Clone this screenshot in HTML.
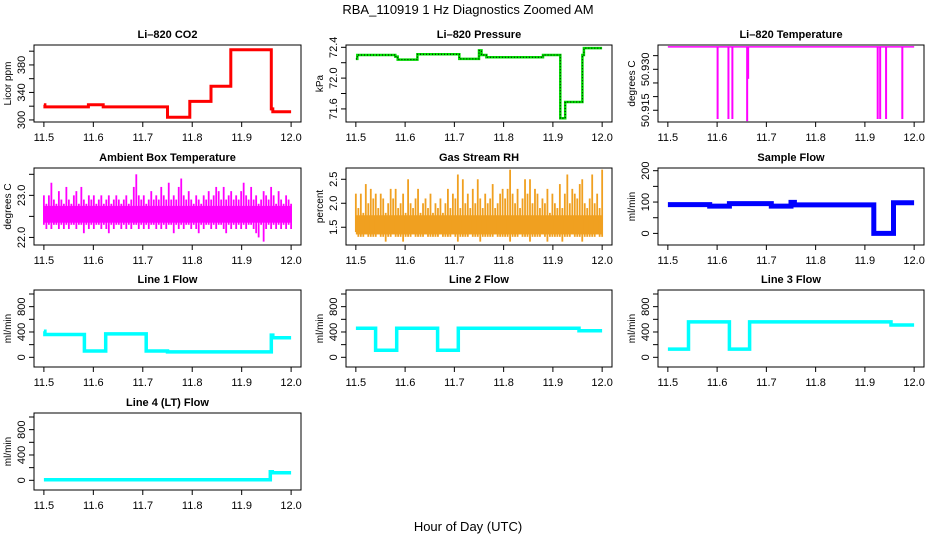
<!DOCTYPE html>
<html><head><meta charset="utf-8"><style>
html,body{margin:0;padding:0;background:#fff;}
svg{display:block;font-family:"Liberation Sans",Arial,sans-serif;}
</style></head><body>
<svg id="chart" width="936" height="540" viewBox="0 0 936 540" xmlns="http://www.w3.org/2000/svg">
<text x="468" y="14" text-anchor="middle" font-size="13">RBA_110919  1 Hz Diagnostics Zoomed AM</text>
<text x="468" y="531" text-anchor="middle" font-size="13">Hour of Day (UTC)</text>
</svg>
<script>
// ---- data ----
const xTicks = [11.5, 11.6, 11.7, 11.8, 11.9, 12.0];
const xTickLabels = ["11.5", "11.6", "11.7", "11.8", "11.9", "12.0"];

const co2Breaks = [11.5, 11.502, 11.59, 11.62, 11.75, 11.795, 11.838, 11.878, 11.96, 11.963, 12.0];
const co2Values = [322, 319, 322, 319, 304, 327, 349, 402, 316, 312, 312];

const presBreaks = [11.5, 11.503, 11.58, 11.585, 11.625, 11.71, 11.75, 11.755, 11.765, 11.88, 11.915, 11.925, 11.96, 11.963, 12.0];
const presValues = [72.25, 72.30, 72.28, 72.24, 72.31, 72.25, 72.36, 72.30, 72.27, 72.30, 71.48, 71.69, 72.30, 72.39, 72.39];

const tempBase = 50.9382;
const tempSpikeTimes = [11.601, 11.623, 11.631, 11.661, 11.663, 11.926, 11.931, 11.943, 11.976];
const tempSpikeValues = [50.9118, 50.9118, 50.9118, 50.9110, 50.9265, 50.9118, 50.9118, 50.9118, 50.9118];

const ambUpper = [23.0,22.8,23.0,23.3,22.9,22.8,23.1,22.9,22.8,23.2,22.9,22.8,23.0,23.1,22.8,23.2,22.9,22.8,23.0,22.9,23.0,22.8,22.9,23.0,22.8,22.9,23.0,22.8,22.9,23.0,22.9,22.8,22.9,23.0,22.8,22.9,23.2,23.5,23.0,22.9,23.0,22.8,22.9,23.1,22.9,23.0,22.9,23.2,23.0,22.9,23.3,22.9,23.0,22.9,23.2,23.4,23.0,22.9,23.1,22.9,22.8,23.0,22.9,22.8,23.0,22.9,23.1,22.9,23.0,23.2,23.1,22.9,23.2,22.9,23.0,23.1,22.9,23.0,22.9,23.1,23.3,23.0,22.9,23.2,22.9,23.0,22.8,22.9,23.1,23.0,22.9,23.2,23.0,22.8,23.1,22.9,22.8,23.0,22.9,22.8];
const ambLower = [22.3,22.2,22.3,22.2,22.3,22.3,22.2,22.3,22.2,22.3,22.2,22.3,22.3,22.2,22.3,22.3,22.1,22.3,22.2,22.3,22.2,22.3,22.3,22.2,22.3,22.2,22.1,22.3,22.2,22.3,22.3,22.2,22.3,22.2,22.3,22.2,22.3,22.3,22.2,22.3,22.2,22.3,22.2,22.3,22.3,22.2,22.3,22.2,22.3,22.2,22.3,22.3,22.1,22.3,22.2,22.3,22.2,22.3,22.3,22.2,22.3,22.2,22.1,22.3,22.2,22.3,22.3,22.2,22.3,22.2,22.3,22.3,22.2,22.1,22.3,22.2,22.3,22.2,22.3,22.2,22.3,22.2,22.3,22.3,22.2,22.1,22.0,22.3,21.9,22.2,22.3,22.2,22.3,22.2,22.3,22.2,22.3,22.2,22.3,22.2];

const rhUpper = [2.2,1.9,2.2,1.8,2.4,2.0,2.3,2.1,2.2,1.9,2.2,2.1,1.8,2.0,2.3,2.1,2.3,1.9,2.0,2.2,1.8,2.5,2.0,1.9,2.1,2.3,1.8,2.0,2.1,1.9,2.2,1.8,2.0,1.9,2.1,1.8,2.0,2.3,1.9,2.2,2.1,2.6,1.9,2.5,2.0,2.2,1.9,2.3,2.0,2.5,2.1,1.9,2.2,2.0,2.1,2.4,1.9,2.0,2.2,2.3,2.1,2.3,2.7,2.2,2.0,2.3,1.9,2.1,2.5,2.2,2.5,2.0,2.3,2.2,1.9,2.1,2.0,2.3,1.8,2.2,2.0,1.9,2.4,1.9,2.2,2.6,2.0,2.3,2.2,2.1,2.4,2.5,2.0,1.9,2.1,2.6,2.0,2.2,1.9,2.7];
const rhLower = [1.4,1.3,1.3,1.3,1.4,1.3,1.3,1.3,1.3,1.4,1.3,1.3,1.2,1.3,1.3,1.4,1.3,1.3,1.3,1.2,1.3,1.3,1.3,1.4,1.3,1.3,1.3,1.3,1.4,1.3,1.3,1.3,1.3,1.3,1.4,1.3,1.3,1.3,1.3,1.4,1.3,1.2,1.3,1.3,1.3,1.3,1.4,1.3,1.3,1.3,1.2,1.3,1.3,1.3,1.3,1.3,1.4,1.3,1.3,1.3,1.3,1.3,1.2,1.3,1.3,1.3,1.4,1.3,1.3,1.3,1.2,1.3,1.3,1.3,1.3,1.4,1.3,1.2,1.3,1.3,1.3,1.3,1.3,1.2,1.3,1.3,1.3,1.4,1.3,1.3,1.3,1.2,1.3,1.3,1.3,1.3,1.3,1.4,1.3,1.3];

const sfBreaks = [11.5, 11.585, 11.625, 11.71, 11.75, 11.757, 11.918, 11.958, 12.0];
const sfValues = [92, 87, 95, 87, 99, 91, 0, 98, 98];

const l1Breaks = [11.5, 11.502, 11.582, 11.625, 11.707, 11.75, 11.96, 11.963, 12.0];
const l1Values = [410, 360, 100, 370, 100, 85, 350, 310, 310];

const l2Breaks = [11.5, 11.54, 11.583, 11.666, 11.708, 11.953, 12.0];
const l2Values = [460, 110, 460, 110, 460, 420, 420];

const l3Breaks = [11.5, 11.542, 11.625, 11.666, 11.953, 12.0];
const l3Values = [130, 560, 130, 560, 510, 510];

const l4Breaks = [11.5, 11.958, 11.962, 12.0];
const l4Values = [10, 135, 120, 120];

// ---- layout ----
const NS = "http://www.w3.org/2000/svg";
const svg = document.getElementById('chart');
const colL = [34, 346, 658], colR = [301, 612, 924];
const rowT = [45, 168, 290, 413], BH = 77;
const XLO = 11.48, XHI = 12.02;

function mk(tag, attrs, parent) {
  const e = document.createElementNS(NS, tag);
  for (const k in attrs) e.setAttribute(k, attrs[k]);
  (parent || svg).appendChild(e);
  return e;
}

function panel(col, row, title, ylab, ylo, yhi, yTicks, yLabels, name) {
  const g = mk('g', {});
  
  
  const L = colL[col], R = colR[col], T = rowT[row], B = T + BH;
  const sx = v => L + (v - XLO) / (XHI - XLO) * (R - L);
  const sy = v => B - (v - ylo) / (yhi - ylo) * BH;
  const t = mk('text', {x: (L + R) / 2, y: T - 7, 'text-anchor': 'middle', 'font-size': 11, 'font-weight': 'bold'}, g);
  t.textContent = title;
  
  
  const box = mk('rect', {x: L, y: T, width: R - L, height: BH, fill: 'none', stroke: '#000', 'stroke-width': 1}, g);
  
  
  const xa = mk('g', {}, g);
  
  
  mk('line', {x1: sx(xTicks[0]), x2: sx(xTicks[xTicks.length - 1]), y1: B, y2: B, stroke: '#000'}, xa);
  xTicks.forEach((v, i) => {
    mk('line', {x1: sx(v), x2: sx(v), y1: B, y2: B + 5, stroke: '#000'}, xa);
    const tl = mk('text', {x: sx(v), y: B + 19, 'text-anchor': 'middle', 'font-size': 11}, xa);
    tl.textContent = xTickLabels[i];
  });
  const ya = mk('g', {}, g);
  
  
  mk('line', {x1: L, x2: L, y1: sy(yTicks[0]), y2: sy(yTicks[yTicks.length - 1]), stroke: '#000'}, ya);
  yTicks.forEach((v, i) => {
    mk('line', {x1: L - 5, x2: L, y1: sy(v), y2: sy(v), stroke: '#000'}, ya);
    if (yLabels[i]) {
      const tl = mk('text', {x: 0, y: 0, 'text-anchor': 'middle', 'font-size': 11,
        transform: `translate(${L - 9},${sy(v)}) rotate(-90)`}, ya);
      tl.textContent = yLabels[i];
    }
  });
  const yt = mk('text', {x: 0, y: 0, 'text-anchor': 'middle', 'font-size': 10,
    transform: `translate(${L - 23},${T + BH / 2}) rotate(-90)`}, g);
  yt.textContent = ylab;
  
  
  return {g, sx, sy};
}

function stepPath(p, breaks, values) {
  let d = '';
  for (let i = 0; i < breaks.length - 1; i++) {
    const x0 = p.sx(breaks[i]), x1 = p.sx(breaks[i + 1]), y = p.sy(values[i]);
    d += (i === 0 ? 'M' : 'L') + x0.toFixed(1) + ',' + y.toFixed(1) + 'L' + x1.toFixed(1) + ',' + y.toFixed(1);
  }
  return d;
}

function drawStep(p, breaks, values, color, w, name) {
  const e = mk('path', {d: stepPath(p, breaks, values), fill: 'none', stroke: color, 'stroke-width': w, 'stroke-linejoin': 'miter'}, p.g);
  
  
  return e;
}

function drawBand(p, upper, lower, color, w, name) {
  const g = mk('g', {}, p.g);
  
  
  const n = upper.length;
  let dU = '', dL = '';
  for (let i = 0; i < n; i++) {
    const xv = 11.5 + 0.5 * i / (n - 1);
    const x = p.sx(xv);
    mk('line', {x1: x, x2: x, y1: p.sy(lower[i]), y2: p.sy(upper[i]), stroke: color, 'stroke-width': w}, g);
  }
  return g;
}

function drawCore(p, lo, hi, color, name) {
  const r = mk('rect', {x: p.sx(11.5), y: p.sy(hi), width: p.sx(12.0) - p.sx(11.5), height: p.sy(lo) - p.sy(hi), fill: color}, p.g);
  
  
}

const flowTicks = [0, 200, 400, 600, 800, 1000];
const flowLabels = ["0", "", "400", "", "800", ""];

// Row 1
let p = panel(0, 0, 'Li\u2013820 CO2', 'Licor ppm', 297, 409, [300, 320, 340, 360, 380, 400], ["300", "", "340", "", "380", ""], 'co2');
drawStep(p, co2Breaks, co2Values, '#ff0000', 3, 'co2-line');

p = panel(1, 0, 'Li\u2013820 Pressure', 'kPa', 71.43, 72.43, [71.6, 71.8, 72.0, 72.2, 72.4], ["71.6", "", "72.0", "", "72.4"], 'pressure');
drawStep(p, presBreaks, presValues, '#00dd00', 2.5, 'pressure-line');
drawStep(p, presBreaks, presValues, '#000', 1, 'pressure-points').setAttribute('stroke-dasharray', '1,2');

p = panel(2, 0, 'Li\u2013820 Temperature', 'degrees C', 50.9107, 50.9389, [50.915, 50.920, 50.925, 50.930, 50.935], ["50.915", "", "", "50.930", ""], 'li820-temp');
{
  const base = mk('line', {x1: p.sx(11.5), x2: p.sx(12.0), y1: p.sy(tempBase), y2: p.sy(tempBase), stroke: '#ff00ff', 'stroke-width': 1.5}, p.g);
  
  
  tempSpikeTimes.forEach((t, i) => {
    const s = mk('line', {x1: p.sx(t), x2: p.sx(t), y1: p.sy(tempBase), y2: p.sy(tempSpikeValues[i]), stroke: '#ff00ff', 'stroke-width': 2}, p.g);
    
    
  });
}

// Row 2
p = panel(0, 1, 'Ambient Box Temperature', 'degrees C', 21.82, 23.65, [22.0, 22.5, 23.0, 23.5], ["22.0", "", "23.0", ""], 'ambient');
drawCore(p, 22.35, 22.75, '#ff00ff', 'ambient-core');
drawBand(p, ambUpper, ambLower, '#ff00ff', 1.8, 'ambient-line');

p = panel(1, 1, 'Gas Stream RH', 'percent', 1.13, 2.735, [1.5, 2.0, 2.5], ["1.5", "2.0", "2.5"], 'rh');
drawCore(p, 1.35, 1.75, '#f0a020', 'rh-core');
drawBand(p, rhUpper, rhLower, '#f0a020', 1.8, 'rh-line');

p = panel(2, 1, 'Sample Flow', 'ml/min', -37, 208.6, [0, 50, 100, 150, 200], ["0", "", "100", "", "200"], 'sample-flow');
drawStep(p, sfBreaks, sfValues, '#0000ff', 5, 'sample-flow-line');

// Row 3
p = panel(0, 2, 'Line 1 Flow', 'ml/min', -153, 1063, flowTicks, flowLabels, 'line1');
drawStep(p, l1Breaks, l1Values, '#00ffff', 3.5, 'line1-flow');
p = panel(1, 2, 'Line 2 Flow', 'ml/min', -153, 1063, flowTicks, flowLabels, 'line2');
drawStep(p, l2Breaks, l2Values, '#00ffff', 3.5, 'line2-flow');
p = panel(2, 2, 'Line 3 Flow', 'ml/min', -153, 1063, flowTicks, flowLabels, 'line3');
drawStep(p, l3Breaks, l3Values, '#00ffff', 3.5, 'line3-flow');

// Row 4
p = panel(0, 3, 'Line 4 (LT) Flow', 'ml/min', -153, 1063, flowTicks, flowLabels, 'line4');
drawStep(p, l4Breaks, l4Values, '#00ffff', 3.5, 'line4-flow');
</script>
</body></html>
